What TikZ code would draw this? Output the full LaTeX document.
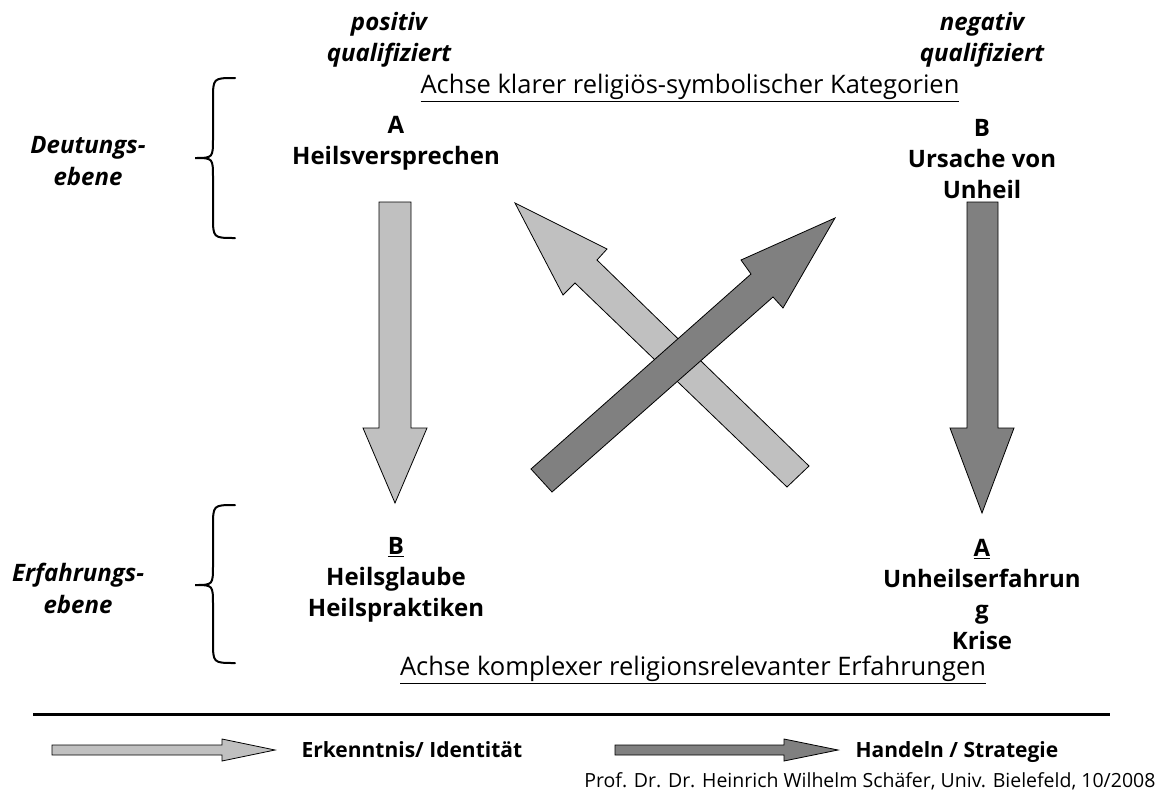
\documentclass[tikz,border=0pt]{standalone}
\usepackage{fontspec}
\setmainfont{Open Sans}
\definecolor{hellgrau}{RGB}{192,192,192}
\definecolor{dunkelgrau}{RGB}{128,128,128}
\begin{document}
\begin{tikzpicture}[x=1pt,y=-1pt,
    lbl/.style={align=center,font=\fontsize{24}{31}\selectfont\bfseries},
    qual/.style={align=center,font=\fontsize{24}{31}\selectfont\bfseries\itshape},
    ebene/.style={align=center,font=\fontsize{24}{32}\selectfont\bfseries\itshape},
    achse/.style={font=\fontsize{25.5}{28}\selectfont},
    legende/.style={anchor=base west,font=\fontsize{21}{24}\selectfont\bfseries},
    hell/.style={fill=hellgrau,draw=black,line width=0.8pt},
    dunkel/.style={fill=dunkelgrau,draw=black,line width=0.8pt},
    klammer/.style={line width=2pt,line cap=round}]

    \useasboundingbox (0,0) rectangle (1164,798);

    % Kopfzeile
    \node[qual] (pos) at (389,40) {positiv\\qualifiziert};
    \node[qual] (neg) at (982,40) {negativ\\qualifiziert};
    \node[achse] (achseOben) at (690,88) {\underline{Achse klarer religiös-symbolischer Kategorien}};

    % Deutungsebene
    \node[ebene] (deut) at (88,161) {Deutungs-\\ebene};
    \draw[klammer] (235,78) .. controls (213,78) .. (213,100) -- (213,138)
        .. controls (213,158) .. (195,158) .. controls (213,158) .. (213,178)
        -- (213,216) .. controls (213,238) .. (235,238);
    \node[lbl] (heil) at (396,143) {A\\Heilsversprechen};
    \node[lbl] (ursache) at (982,159) {B\\Ursache von\\Unheil};

    % Pfeile
    \draw[hell] (379,202) -- (411,202) -- (411,428) -- (427,428) -- (395,503)
        -- (363,428) -- (379,428) -- cycle;
    \draw[dunkel] (967,202) -- (998,202) -- (998,428) -- (1014,428) -- (982,513)
        -- (950,428) -- (967,428) -- cycle;
    \draw[hell] (787,487) -- (575,283) -- (563,295) -- (515,203) -- (607,249)
        -- (597,260) -- (809,466) -- cycle;
    \draw[dunkel] (531,469) -- (751,274) -- (741,260) -- (835,218) -- (783,308)
        -- (773,297) -- (552,492) -- cycle;

    % Erfahrungsebene
    \node[ebene] (erf) at (78,588) {Erfahrungs-\\ebene};
    \draw[klammer] (235,505) .. controls (213,505) .. (213,527) -- (213,565)
        .. controls (213,585) .. (195,585) .. controls (213,585) .. (213,605)
        -- (213,641) .. controls (213,663) .. (235,663);
    \node[lbl] (glaube) at (396,580) {\underline{B}\\Heilsglaube\\Heilspraktiken};
    \node[lbl] (krise) at (982,595) {\underline{A}\\Unheilserfahrun\\g\\Krise};
    \node[achse] (achseUnten) at (693,670) {\underline{Achse komplexer religionsrelevanter Erfahrungen}};

    % Legende
    \draw[line width=3pt] (33,714) -- (1110,714);
    \draw[hell] (52,745) -- (222,745) -- (222,739) -- (275,750) -- (222,761)
        -- (222,755) -- (52,755) -- cycle;
    \node[legende] (erkenntnis) at (298,757) {Erkenntnis/ Identität};
    \draw[dunkel] (615,745) -- (784,745) -- (784,739) -- (838,750) -- (784,761)
        -- (784,755) -- (615,755) -- cycle;
    \node[legende] (handeln) at (852,757) {Handeln / Strategie};
    \node[anchor=east,font=\fontsize{19.5}{22}\selectfont] (quelle) at (1159,781)
        {Prof. Dr. Dr. Heinrich Wilhelm Schäfer, Univ. Bielefeld, 10/2008};
\end{tikzpicture}
\end{document}
